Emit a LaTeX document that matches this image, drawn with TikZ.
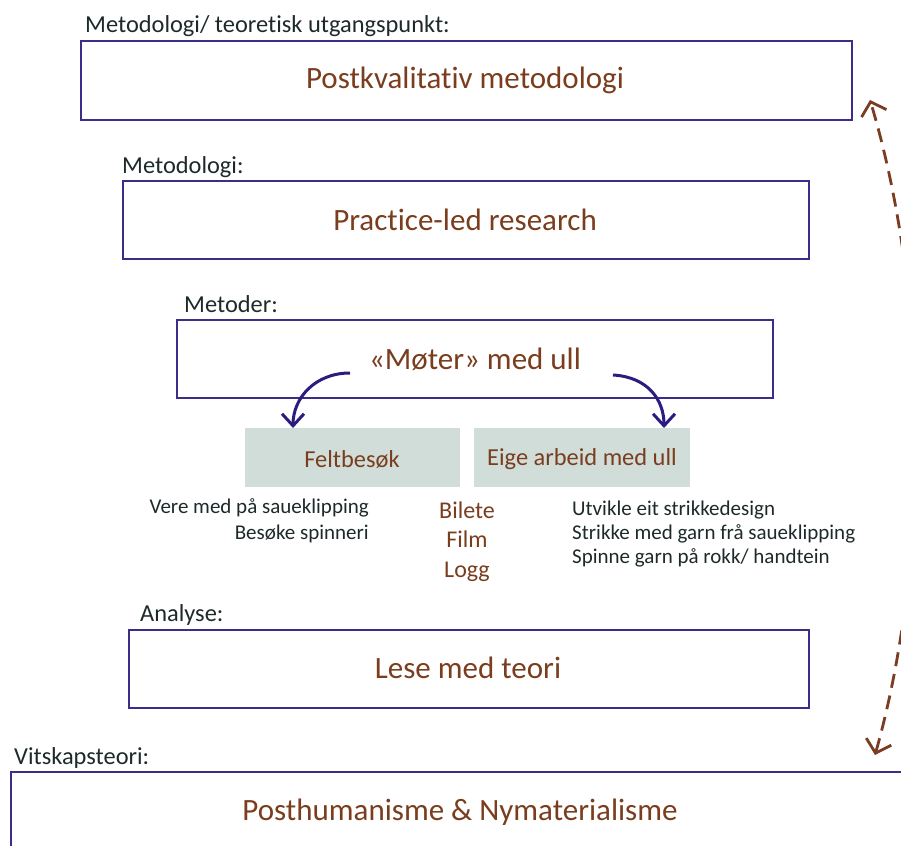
\documentclass[tikz,border=0pt]{standalone}
\usepackage{fontspec}
\setmainfont{Carlito}[Ligatures={NoCommon}]
\usetikzlibrary{arrows.meta}
\definecolor{boxline}{HTML}{3A2E8A}
\definecolor{arrowblue}{HTML}{2B1C80}
\definecolor{brown}{HTML}{7A3D1E}
\definecolor{labeltext}{HTML}{1E2A2A}
\definecolor{subfill}{HTML}{D0DDD8}
\definecolor{dashbrown}{HTML}{7A3D22}
\begin{document}
\begin{tikzpicture}[x=1pt,y=-1pt,
  bigbox/.style={draw=boxline, line width=1.8pt, inner sep=0pt, anchor=north west},
  bigtext/.style={text=brown, font=\fontsize{31}{36}\selectfont},
  subbox/.style={fill=subfill, inner sep=0pt, anchor=north west},
  subtext/.style={text=brown, font=\fontsize{24.4}{28}\selectfont},
  lbl/.style={anchor=base west, inner sep=0pt, text=labeltext, font=\fontsize{24.4}{28}\selectfont},
  item/.style={inner sep=0pt, text=labeltext, font=\fontsize{21}{24}\selectfont},
  media/.style={inner sep=0pt, text=brown, font=\fontsize{24}{30}\selectfont, align=center},
  curvarrow/.style={draw=arrowblue, line width=3pt, -{Straight Barb[length=12pt,width=22pt,line width=3pt]}},
  dasharrow/.style={draw=dashbrown, line width=2.8pt, dash pattern=on 14pt off 8pt, {Straight Barb[length=12pt,width=26pt,line width=2.8pt]}-{Straight Barb[length=12pt,width=26pt,line width=2.8pt]}}
]
\useasboundingbox (0,0) rectangle (901,845);
\fill[white] (0,0) rectangle (901,845);

% labels
\node[lbl] (l1) at (85,33) {Metodologi/ teoretisk utgangspunkt:};
\node[lbl] (l2) at (122,173) {Metodologi:};
\node[lbl] (l3) at (184,312) {Metoder:};
\node[lbl] (l4) at (140,621) {Analyse:};
\node[lbl] (l5) at (14,764) {Vitskapsteori:};

% boxes
\node[bigbox, minimum width=771pt, minimum height=79pt] (b1) at (80,40) {};
\node[bigtext] (t1) at (465,80) {Postkvalitativ metodologi};
\node[bigbox, minimum width=686pt, minimum height=78pt] (b2) at (122,180) {};
\node[bigtext] (t2) at (465,220) {Practice-led research};
\node[bigbox, minimum width=596pt, minimum height=78pt] (b3) at (176,319) {};
\node[bigtext] (t3) at (475,359) {«Møter» med ull};
\node[bigbox, minimum width=680pt, minimum height=78pt] (b4) at (128,629) {};
\node[bigtext] (t4) at (468,668) {Lese med teori};

\begin{scope}
\clip (0,0) rectangle (901,845);
\node[bigbox, minimum width=910pt, minimum height=90pt] (b5) at (10,771) {};
\node[bigtext] (t5) at (460,812) {Posthumanisme \& Nymaterialisme};
\coordinate (dtop) at (870,100);
\coordinate (dbot) at (875,755);
\draw[dasharrow] (dbot) .. controls (930,560) and (930,300) .. (dtop);
\end{scope}

% sub boxes
\node[subbox, minimum width=215pt, minimum height=59pt] (s1) at (245,428) {};
\node[subtext] (st1) at (352,459) {Feltbesøk};
\node[subbox, minimum width=216pt, minimum height=59pt] (s2) at (474,428) {};
\node[subtext] (st2) at (582,459) {Eige arbeid med ull};

% curved arrows
\coordinate (a1s) at (350,373);
\coordinate (a1e) at (293,428);
\coordinate (a2s) at (613,375);
\coordinate (a2e) at (664,428);
\draw[curvarrow] (a1s) .. controls (315,373) and (293,398) .. (a1e);
\draw[curvarrow] (a2s) .. controls (648,377) and (664,400) .. (a2e);

% items
\node[item, anchor=base east] (i1) at (369,513) {Vere med på saueklipping};
\node[item, anchor=base east] (i2) at (369,539) {Besøke spinneri};
\node[media, anchor=base] (m1) at (467,518) {Bilete};
\node[media, anchor=base] (m2) at (467,547) {Film};
\node[media, anchor=base] (m3) at (467,577) {Logg};
\node[item, anchor=base west] (r1) at (572,515) {Utvikle eit strikkedesign};
\node[item, anchor=base west] (r2) at (572,539) {Strikke med garn frå saueklipping};
\node[item, anchor=base west] (r3) at (572,563) {Spinne garn på rokk/ handtein};
\end{tikzpicture}
\end{document}
